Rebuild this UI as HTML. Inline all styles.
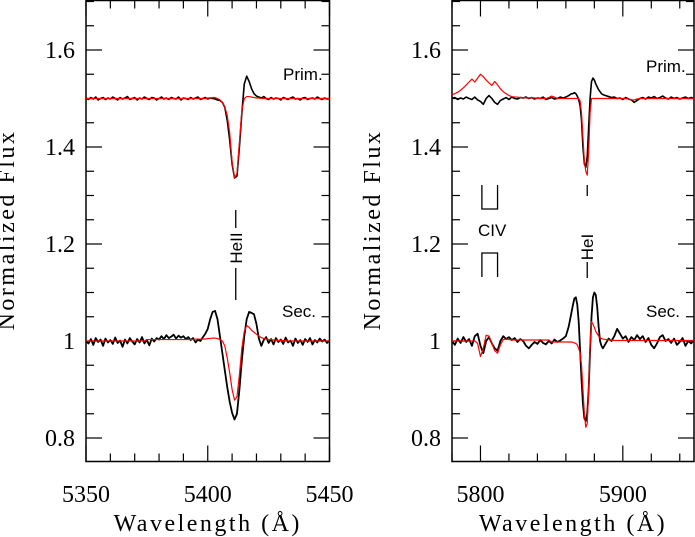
<!DOCTYPE html>
<html><head><meta charset="utf-8"><style>
html,body{margin:0;padding:0;background:#fff;}
svg{display:block;}
text{font-family:"Liberation Serif",serif;fill:#000;}
.lbl{font-family:"Liberation Sans",sans-serif;}
</style></head><body>
<svg id="chart" width="695" height="537" viewBox="0 0 695 537">
<g id="left"></g>
<g id="right"></g>
</svg>
<script>
// ---- Left panel data (HeII 5411) ----
const leftStart = 5350, leftStep = 1;
const leftPrimObs = [
1.501,1.498,1.502,1.499,1.503,1.497,1.500,1.502,1.498,1.501,
1.499,1.503,1.500,1.497,1.502,1.499,1.501,1.504,1.498,1.500,
1.502,1.497,1.501,1.499,1.503,1.500,1.498,1.502,1.501,1.497,
1.500,1.503,1.499,1.501,1.498,1.502,1.500,1.499,1.503,1.497,
1.501,1.500,1.498,1.502,1.499,1.501,1.503,1.498,1.500,1.502,
1.499,1.501,1.500,1.499,1.497,1.496,1.492,1.482,1.455,1.415,
1.365,1.336,1.340,1.400,1.470,1.530,1.546,1.535,1.520,1.510,
1.505,1.503,1.501,1.504,1.500,1.498,1.502,1.499,1.501,1.500,
1.497,1.502,1.500,1.498,1.501,1.503,1.499,1.500,1.497,1.501,
1.502,1.498,1.500,1.501,1.499,1.503,1.500,1.498,1.501,1.499,
1.500];
const leftPrimModel = [
1.500,1.500,1.500,1.500,1.500,1.500,1.500,1.500,1.500,1.500,
1.500,1.500,1.500,1.500,1.500,1.500,1.500,1.500,1.500,1.500,
1.500,1.500,1.500,1.500,1.500,1.500,1.500,1.500,1.500,1.500,
1.500,1.500,1.500,1.500,1.500,1.500,1.500,1.500,1.500,1.500,
1.500,1.500,1.500,1.500,1.500,1.500,1.500,1.500,1.500,1.500,
1.501,1.501,1.502,1.502,1.500,1.497,1.492,1.483,1.465,1.430,
1.370,1.336,1.345,1.410,1.475,1.500,1.504,1.504,1.503,1.502,
1.501,1.501,1.500,1.500,1.500,1.500,1.500,1.500,1.500,1.500,
1.500,1.500,1.500,1.500,1.500,1.500,1.500,1.500,1.500,1.500,
1.500,1.500,1.500,1.500,1.500,1.500,1.500,1.500,1.500,1.500,
1.500];
const leftSecObs = [
1.000,0.995,1.004,0.992,1.006,0.998,1.003,0.990,1.005,0.997,
1.002,0.994,1.007,0.996,1.001,0.988,1.003,0.995,1.006,0.999,
0.993,1.004,0.997,1.008,0.995,1.002,0.991,1.005,0.999,1.006,
1.003,1.010,1.004,1.012,1.006,1.009,1.013,1.005,1.011,1.007,
1.010,1.004,1.008,1.002,1.006,0.997,1.003,1.000,1.008,1.015,
1.025,1.045,1.060,1.062,1.045,1.010,0.975,0.940,0.905,0.875,
0.852,0.838,0.850,0.900,0.960,1.010,1.045,1.060,1.058,1.055,
1.035,1.005,0.990,1.002,1.008,0.996,1.004,0.993,1.006,0.998,
1.003,0.994,1.007,0.997,1.001,0.990,1.005,0.996,1.002,0.992,
1.004,0.998,1.006,0.993,1.002,0.997,1.005,0.999,1.003,0.996,
1.001];
const leftSecModel = [
1.000,1.000,1.000,1.000,1.000,1.000,1.000,1.000,1.000,1.000,
1.000,1.000,1.000,1.000,1.000,1.000,1.000,1.000,1.000,1.000,
1.000,1.000,1.000,1.000,1.000,1.003,1.003,1.003,1.003,1.003,
1.003,1.003,1.003,1.003,1.003,1.003,1.003,1.003,1.003,1.003,
1.003,1.003,1.003,1.003,1.003,1.004,1.004,1.004,1.004,1.004,
1.005,1.005,1.006,1.006,1.005,1.003,1.000,0.990,0.965,0.935,
0.900,0.878,0.885,0.930,0.985,1.020,1.032,1.028,1.022,1.018,
1.014,1.010,1.007,1.005,1.004,1.003,1.003,1.002,1.002,1.001,
1.001,1.001,1.000,1.000,1.000,1.000,1.000,1.000,1.000,1.000,
1.000,1.000,1.000,1.000,1.000,1.000,1.000,1.000,1.000,1.000,
1.000];
const leftXTicks = [5350,5400,5450];

// ---- Right panel data (HeI 5876) ----
const rightWl = [
5780,5782,5784,5786,5788,5790,5792,5794,5796,5798,
5800,5802,5804,5806,5808,5810,5812,5814,5816,5818,
5820,5822,5824,5826,5828,5830,5832,5834,5836,5838,
5840,5842,5844,5846,5848,5850,5852,5854,5856,5858,
5860,5862,5864,
5865,5866,5867,5868,5869,5870,5871,5872,5873,5874,5875,5876,5877,5878,5879,5880,5881,5882,5883,5884,5885,
5886,5888,5890,5892,5894,5896,5898,5900,5902,5904,
5906,5908,5910,5912,5914,5916,5918,5920,5922,5924,
5926,5928,5930,5932,5934,5936,5938,5940,5942,5944,
5946,5948,5950];
const rightPrimObs = [
1.500,1.502,1.498,1.501,1.499,1.503,1.500,1.498,1.503,1.497,
1.494,1.488,1.500,1.506,1.500,1.492,1.488,1.496,1.499,1.502,
1.498,1.503,1.500,1.499,1.502,1.501,1.503,1.500,1.502,1.499,
1.501,1.500,1.503,1.498,1.500,1.502,1.499,1.500,1.503,1.501,
1.503,1.506,1.510,
1.510,1.512,1.510,1.505,1.498,1.485,1.455,1.400,1.365,1.358,1.380,1.440,1.500,1.535,1.542,1.538,1.530,1.524,1.518,1.514,1.510,
1.508,1.506,1.504,1.502,1.503,1.500,1.501,1.498,1.502,1.499,
1.497,1.492,1.496,1.500,1.502,1.499,1.503,1.501,1.504,1.500,
1.502,1.505,1.501,1.499,1.503,1.500,1.502,1.499,1.501,1.503,
1.500,1.502,1.500];
const rightPrimModel = [
1.508,1.510,1.513,1.517,1.522,1.528,1.534,1.540,1.534,1.542,
1.550,1.545,1.538,1.532,1.527,1.535,1.528,1.520,1.514,1.510,
1.506,1.504,1.503,1.503,1.502,1.502,1.501,1.501,1.502,1.501,
1.500,1.500,1.500,1.500,1.502,1.505,1.503,1.500,1.500,1.500,
1.500,1.500,1.500,
1.500,1.500,1.500,1.500,1.500,1.495,1.470,1.420,1.370,1.350,1.342,1.390,1.470,1.500,1.500,1.500,1.500,1.500,1.500,1.500,1.500,
1.500,1.500,1.500,1.500,1.500,1.500,1.500,1.500,1.500,1.499,
1.497,1.497,1.499,1.500,1.500,1.500,1.500,1.500,1.500,1.500,
1.500,1.500,1.500,1.500,1.500,1.500,1.500,1.500,1.500,1.500,
1.500,1.500,1.500];
const rightSecObs = [
1.000,0.992,1.005,0.996,1.008,0.998,1.004,0.990,1.010,1.015,
0.990,0.975,1.000,1.008,0.995,0.985,0.980,1.000,1.010,1.004,
1.008,1.002,1.006,0.998,1.004,1.000,0.990,0.985,0.992,0.998,
0.994,1.002,0.996,0.993,1.000,0.995,1.003,0.998,1.001,1.005,
1.010,1.030,1.060,
1.075,1.088,1.090,1.075,1.040,0.980,0.920,0.870,0.840,0.835,0.850,0.900,0.980,1.050,1.090,1.100,1.095,1.070,1.030,1.000,0.990,
0.985,0.995,1.005,1.000,1.010,1.025,1.015,1.005,1.010,0.998,
1.008,1.002,1.012,1.004,1.010,0.998,1.006,0.992,0.985,0.995,
1.008,1.012,1.000,1.004,0.996,1.005,0.992,0.998,1.006,0.990,
1.000,0.995,1.002];
const rightSecModel = [
1.000,1.000,1.000,1.000,1.000,1.000,1.000,1.000,1.000,0.995,
0.968,0.985,1.012,1.010,0.995,0.980,0.975,0.992,1.003,1.004,
1.003,1.002,1.002,1.002,1.002,1.002,1.002,1.002,1.002,1.002,
1.002,1.002,1.002,1.002,1.002,0.998,0.998,0.998,0.998,0.998,
0.998,0.998,0.998,
0.997,0.996,0.995,0.992,0.985,0.975,0.950,0.900,0.850,0.822,0.830,0.900,0.990,1.040,1.035,1.028,1.020,1.015,1.010,1.007,1.005,
1.004,1.003,1.002,1.002,1.001,1.001,1.001,1.001,1.001,1.001,
1.001,1.001,1.001,1.001,1.001,1.001,1.001,1.001,1.001,1.001,
1.001,1.001,1.001,1.001,1.001,1.001,1.001,1.001,1.001,1.001,
1.001,1.001,1.001];
const rightXTicks = [5800,5900];
const yTicks = [0.8,1,1.2,1.4,1.6];
const yTickLabels = ["0.8","1","1.2","1.4","1.6"];

const NS = "http://www.w3.org/2000/svg";
function mk(parent, tag, attrs){
  const e = document.createElementNS(NS, tag);
  for (const k in attrs) e.setAttribute(k, attrs[k]);
  parent.appendChild(e);
  return e;
}
const Y0 = 341, YS = 485, TOP = 0.5, BOT = 461.5;
function yScale(f){ return Y0 - (f - 1) * YS; }

function drawPanel(g, x0, x1, lmin, lmax, majorStep, minorStep, majors, series, prefix){
  const xs = l => x0 + (l - lmin) * (x1 - x0) / (lmax - lmin);
  const frame = mk(g, 'rect', {x:x0, y:TOP, width:x1-x0, height:BOT-TOP, fill:'none', stroke:'#000', 'stroke-width':1.5});
  
  
  // x ticks
  for (let l = lmin; l <= lmax + 1e-6; l += minorStep){
    const isMaj = Math.abs(l / majorStep - Math.round(l / majorStep)) < 1e-6;
    const len = isMaj ? 16 : 8, x = xs(l);
    const t1 = mk(g, 'line', {x1:x, x2:x, y1:BOT, y2:BOT-len, stroke:'#000', 'stroke-width':1.2});
    
    
    const t2 = mk(g, 'line', {x1:x, x2:x, y1:TOP, y2:TOP+len, stroke:'#000', 'stroke-width':1.2});
    
    
  }
  majors.forEach(v => {
    const t = mk(g, 'text', {x:xs(v), y:502, 'text-anchor':'middle', 'font-size':24});
    
    
    t.textContent = v;
  });
  // y ticks
  for (let i = 15; i <= 34; i++){
    const f = i * 0.05, y = yScale(f);
    if (y < TOP || y > BOT) continue;
    const isMaj = i % 4 === 0;
    const len = isMaj ? 16 : 8;
    const a = mk(g, 'line', {x1:x0, x2:x0+len, y1:y, y2:y, stroke:'#000', 'stroke-width':1.2});
    
    
    const b = mk(g, 'line', {x1:x1, x2:x1-len, y1:y, y2:y, stroke:'#000', 'stroke-width':1.2});
    
    
  }
  yTicks.forEach((v, i) => {
    const t = mk(g, 'text', {x:x0-11, y:yScale(v)+8, 'text-anchor':'end', 'font-size':24});
    
    
    t.textContent = yTickLabels[i];
  });
  const xt = mk(g, 'text', {x:(x0+x1)/2, y:531, 'text-anchor':'middle', 'font-size':24, 'letter-spacing':'2.5'});
  
  
  xt.textContent = 'Wavelength (Å)';
  const ty = 230, tx = x0 - 72;
  const yt = mk(g, 'text', {x:tx, y:ty, 'text-anchor':'middle', 'font-size':24, 'letter-spacing':'2.5', transform:`rotate(-90 ${tx} ${ty})`});
  
  
  yt.textContent = 'Normalized Flux';
  // series
  const clipId = prefix + '-clip';
  const cp = mk(g, 'clipPath', {id:clipId});
  mk(cp, 'rect', {x:x0, y:TOP, width:x1-x0, height:BOT-TOP});
  series.forEach(s => {
    let d = '';
    s.flux.forEach((f, i) => {
      d += (i ? 'L' : 'M') + xs(s.wl[i]).toFixed(2) + ',' + yScale(f).toFixed(2);
    });
    const p = mk(g, 'path', {d:d, fill:'none', stroke:s.color, 'stroke-width':s.w, 'stroke-linejoin':'round', 'clip-path':`url(#${clipId})`});
    
    
  });
  return xs;
}

const leftWl = leftPrimObs.map((_, i) => leftStart + i * leftStep);
const gl = document.getElementById('left');
const xsl = drawPanel(gl, 86, 329.5, 5350, 5450, 50, 10, leftXTicks, [
  {wl:leftWl, flux:leftPrimObs, color:'#000', w:1.6, name:'left-primary-observed-line'},
  {wl:leftWl, flux:leftPrimModel, color:'#f00', w:1.2, name:'left-primary-model-line'},
  {wl:leftWl, flux:leftSecObs, color:'#000', w:1.8, name:'left-secondary-observed-line'},
  {wl:leftWl, flux:leftSecModel, color:'#f00', w:1.2, name:'left-secondary-model-line'}
], 'left');

const gr = document.getElementById('right');
const xsr = drawPanel(gr, 452, 694, 5780, 5950, 100, 20, rightXTicks, [
  {wl:rightWl, flux:rightPrimObs, color:'#000', w:1.6, name:'right-primary-observed-line'},
  {wl:rightWl, flux:rightPrimModel, color:'#f00', w:1.2, name:'right-primary-model-line'},
  {wl:rightWl, flux:rightSecObs, color:'#000', w:1.8, name:'right-secondary-observed-line'},
  {wl:rightWl, flux:rightSecModel, color:'#f00', w:1.2, name:'right-secondary-model-line'}
], 'right');

function label(g, x, y, txt, name, size, rot){
  const t = mk(g, 'text', {x:x, y:y, 'font-size':size, class:'lbl', 'text-anchor': rot ? 'middle' : 'start'});
  if (rot) t.setAttribute('transform', `rotate(-90 ${x} ${y})`);
  
  
  t.textContent = txt;
  return t;
}
function seg(g, x1, y1, x2, y2, name){
  const l = mk(g, 'line', {x1:x1, y1:y1, x2:x2, y2:y2, stroke:'#000', 'stroke-width':1.3});
  
  
}
// left annotations
label(gl, 283, 80, 'Prim.', 'left-prim-label', 17);
label(gl, 282, 317, 'Sec.', 'left-sec-label', 17);
const hx = xsl(5411.5);
seg(gl, hx, 210, hx, 228, 'left-heii-marker-top');
label(gl, hx+6, 248, 'HeII', 'left-heii-label', 17, true);
seg(gl, hx, 268, hx, 300, 'left-heii-marker-bottom');
// right annotations
label(gr, 646, 72, 'Prim.', 'right-prim-label', 17);
label(gr, 646, 317, 'Sec.', 'right-sec-label', 17);
const ex = xsr(5875);
seg(gr, ex, 185, ex, 196, 'right-hei-marker-top');
label(gr, ex+6, 247, 'HeI', 'right-hei-label', 17, true);
seg(gr, ex, 262, ex, 278, 'right-hei-marker-bottom');
const c1 = xsr(5801), c2 = xsr(5812);
const up = mk(gr, 'path', {d:`M${c1},185 L${c1},209 L${c2},209 L${c2},185`, fill:'none', stroke:'#000', 'stroke-width':1.3});


const dn = mk(gr, 'path', {d:`M${c1},277 L${c1},253 L${c2},253 L${c2},277`, fill:'none', stroke:'#000', 'stroke-width':1.3});


label(gr, 478, 236, 'CIV', 'civ-label', 17);
</script>
</body></html>
